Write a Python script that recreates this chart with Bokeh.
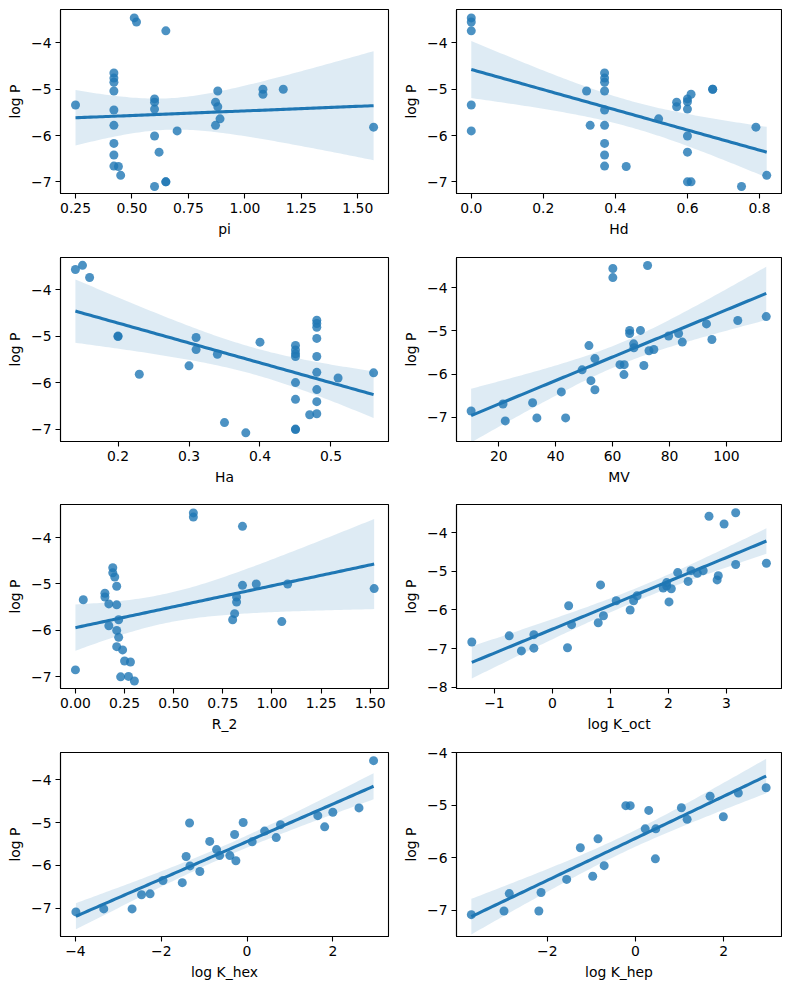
import numpy as np
from bokeh.plotting import figure
from bokeh.layouts import column, row
from bokeh.models import FixedTicker, Range1d
from bokeh.embed import file_html
from bokeh.resources import INLINE

# ---------------- data ----------------
pi_x = [0.25, 0.51, 0.52, 0.65, 0.42, 0.42, 0.42, 0.42, 0.42, 0.42, 0.42, 0.42, 0.42,
        0.44, 0.45, 0.60, 0.60, 0.60, 0.60, 0.62, 0.60, 0.65, 0.65, 0.70, 0.87, 0.88,
        0.88, 0.89, 0.87, 1.08, 1.08, 1.17, 1.57]
pi_y = [-5.34, -3.46, -3.55, -3.74, -4.65, -4.76, -4.85, -5.04, -5.45, -5.78, -6.17, -6.42, -6.66,
        -6.67, -6.86, -5.21, -5.28, -5.43, -6.01, -6.36, -7.10, -7.00, -7.00, -5.90, -5.28, -5.04,
        -5.38, -5.64, -5.78, -5.00, -5.11, -5.00, -5.82]

hd_x = [0.0, 0.0, 0.0, 0.0, 0.0, 0.32, 0.33, 0.37, 0.37, 0.37, 0.37, 0.37, 0.37, 0.37, 0.37, 0.37,
        0.43, 0.52, 0.57, 0.57, 0.60, 0.60, 0.60, 0.60, 0.60, 0.60, 0.61, 0.61, 0.67, 0.67,
        0.75, 0.79, 0.82]
hd_y = [-3.46, -3.55, -3.74, -5.34, -5.90, -5.04, -5.78, -4.65, -4.76, -4.85, -5.04, -5.45, -5.78,
        -6.17, -6.42, -6.66, -6.67, -5.64, -5.28, -5.38, -5.21, -5.27, -5.43, -6.01, -6.36, -7.00,
        -5.11, -7.00, -5.00, -5.00, -7.10, -5.82, -6.86]

ha_x = [0.14, 0.15, 0.16, 0.20, 0.20, 0.23, 0.30, 0.31, 0.31, 0.34, 0.35, 0.38, 0.40,
        0.45, 0.45, 0.45, 0.45, 0.45, 0.45, 0.45, 0.45, 0.47,
        0.48, 0.48, 0.48, 0.48, 0.48, 0.48, 0.48, 0.48, 0.48, 0.51, 0.56]
ha_y = [-3.57, -3.48, -3.74, -5.00, -5.01, -5.82, -5.64, -5.03, -5.29, -5.39, -6.86, -7.08, -5.13,
        -5.20, -5.30, -5.38, -5.44, -6.00, -6.36, -7.00, -7.01, -6.69,
        -4.66, -4.73, -4.81, -5.05, -5.44, -5.78, -6.15, -6.41, -6.67, -5.90, -5.79]

mv_x = [10.3, 21.5, 22.3, 31.9, 33.4, 42.0, 43.5, 49.3, 51.7, 52.4, 53.8, 53.8, 60.1, 60.1,
        62.6, 64.1, 64.0, 66.0, 66.0, 67.4, 67.5, 69.8, 71.0, 72.3, 72.8, 74.5, 79.7, 83.2,
        84.5, 93.0, 94.9, 104.0, 114.0]
mv_y = [-6.85, -6.69, -7.08, -6.66, -7.01, -6.41, -7.01, -5.90, -5.34, -6.15, -5.64, -6.36, -3.56, -3.77,
        -5.78, -5.78, -6.01, -4.99, -5.06, -5.30, -5.39, -4.99, -5.80, -3.49, -5.46, -5.43, -5.12, -5.06,
        -5.26, -4.84, -5.20, -4.76, -4.67]

r2_x = [0.00, 0.04, 0.15, 0.15, 0.17, 0.17, 0.19, 0.19, 0.20, 0.21, 0.21, 0.22, 0.21, 0.22, 0.21,
        0.24, 0.25, 0.28, 0.23, 0.27, 0.30, 0.60, 0.60, 0.85, 0.85, 0.92, 0.82, 0.82, 0.81, 0.80,
        1.05, 1.08, 1.52]
r2_y = [-6.85, -5.34, -5.20, -5.28, -5.43, -5.90, -4.65, -4.76, -4.85, -5.05, -5.45, -5.77, -6.00, -6.15, -6.35,
        -6.42, -6.66, -6.68, -7.00, -6.99, -7.09, -3.47, -3.56, -3.76, -5.03, -5.00, -5.28, -5.39, -5.64, -5.77,
        -5.81, -5.00, -5.10]

koct_x = [-1.39, -0.745, -0.535, -0.32, -0.32, 0.26, 0.28, 0.33, 0.79, 0.83, 0.88, 1.10, 1.34, 1.40,
          1.46, 1.91, 1.97, 1.97, 2.01, 2.05, 2.16, 2.34, 2.39, 2.50, 2.60, 2.70, 2.84, 2.86, 2.96,
          3.16, 3.16, 3.69]
koct_y = [-6.83, -6.67, -7.06, -6.64, -6.99, -6.98, -5.89, -6.38, -6.33, -5.35, -6.15, -5.76, -6.00, -5.76,
          -5.63, -5.43, -5.29, -5.38, -5.79, -5.45, -5.03, -5.26, -4.98, -5.05, -4.98, -3.57, -5.22, -5.11, -3.77,
          -3.48, -4.82, -4.79]

khex_x = [-3.99, -3.34, -2.68, -2.46, -2.26, -1.96, -1.51, -1.42, -1.34, -1.33, -1.10, -0.87, -0.71,
          -0.64, -0.40, -0.29, -0.26, -0.09, 0.12, 0.41, 0.68, 0.78, 1.65, 1.81, 2.00, 2.61, 2.95]
khex_y = [-7.08, -7.01, -7.01, -6.68, -6.66, -6.35, -6.40, -5.79, -5.01, -6.01, -6.14, -5.44, -5.63,
          -5.77, -5.77, -5.28, -5.89, -5.00, -5.45, -5.20, -5.35, -5.05, -4.84, -5.10, -4.76, -4.66, -3.56]

khep_x = [-3.72, -2.98, -2.86, -2.19, -2.14, -1.56, -1.25, -0.97, -0.85, -0.71, -0.22, -0.12, 0.22,
          0.30, 0.46, 0.45, 1.04, 1.17, 1.69, 1.99, 2.33, 2.96]
khep_y = [-7.08, -7.01, -6.68, -7.01, -6.66, -6.41, -5.81, -6.35, -5.64, -6.15, -5.01, -5.01, -5.45,
          -5.10, -5.45, -6.02, -5.05, -5.27, -4.83, -5.22, -4.77, -4.67]

# axis labels, ticks and tick labels
panels = [
    dict(x=pi_x, y=pi_y, xlabel="pi",
         xt=[0.25, 0.5, 0.75, 1.0, 1.25, 1.5], xl=["0.25", "0.50", "0.75", "1.00", "1.25", "1.50"],
         yt=[-7, -6, -5, -4], yl=["\u22127", "\u22126", "\u22125", "\u22124"],
         xr=(0.1835, 1.636), yr=(-7.252, -3.279)),
    dict(x=hd_x, y=hd_y, xlabel="Hd",
         xt=[0.0, 0.2, 0.4, 0.6, 0.8], xl=["0.0", "0.2", "0.4", "0.6", "0.8"],
         yt=[-7, -6, -5, -4], yl=["\u22127", "\u22126", "\u22125", "\u22124"],
         xr=(-0.041, 0.861), yr=(-7.252, -3.279)),
    dict(x=ha_x, y=ha_y, xlabel="Ha",
         xt=[0.2, 0.3, 0.4, 0.5], xl=["0.2", "0.3", "0.4", "0.5"],
         yt=[-7, -6, -5, -4], yl=["\u22127", "\u22126", "\u22125", "\u22124"],
         xr=(0.119, 0.581), yr=(-7.266, -3.311)),
    dict(x=mv_x, y=mv_y, xlabel="MV",
         xt=[20, 40, 60, 80, 100], xl=["20", "40", "60", "80", "100"],
         yt=[-7, -6, -5, -4], yl=["\u22127", "\u22126", "\u22125", "\u22124"],
         xr=(5.16, 119.36), yr=(-7.555, -3.306)),
    dict(x=r2_x, y=r2_y, xlabel="R_2",
         xt=[0.0, 0.25, 0.5, 0.75, 1.0, 1.25, 1.5], xl=["0.00", "0.25", "0.50", "0.75", "1.00", "1.25", "1.50"],
         yt=[-7, -6, -5, -4], yl=["\u22127", "\u22126", "\u22125", "\u22124"],
         xr=(-0.076, 1.593), yr=(-7.251, -3.289)),
    dict(x=koct_x, y=koct_y, xlabel="log K_oct",
         xt=[-1, 0, 1, 2, 3], xl=["\u22121", "0", "1", "2", "3"],
         yt=[-8, -7, -6, -5, -4], yl=["\u22128", "\u22127", "\u22126", "\u22125", "\u22124"],
         xr=(-1.654, 3.95), yr=(-8.035, -3.266)),
    dict(x=khex_x, y=khex_y, xlabel="log K_hex",
         xt=[-4, -2, 0, 2], xl=["\u22124", "\u22122", "0", "2"],
         yt=[-7, -6, -5, -4], yl=["\u22127", "\u22126", "\u22125", "\u22124"],
         xr=(-4.349, 3.298), yr=(-7.653, -3.37)),
    dict(x=khep_x, y=khep_y, xlabel="log K_hep",
         xt=[-2, 0, 2], xl=["\u22122", "0", "2"],
         yt=[-7, -6, -5, -4], yl=["\u22127", "\u22126", "\u22125", "\u22124"],
         xr=(-4.056, 3.308), yr=(-7.495, -4.0)),
]

BLUE = "#1f77b4"
FONT = "DejaVu Sans"
FS = "13.9px"


def fit(x, y):
    x = np.asarray(x, float)
    y = np.asarray(y, float)
    n = len(x)
    b, a = np.polyfit(x, y, 1)
    grid = np.linspace(x.min(), x.max(), 100)
    yhat = a + b * grid
    resid = y - (a + b * x)
    s = np.sqrt(resid @ resid / (n - 2))
    sxx = ((x - x.mean()) ** 2).sum()
    se = s * np.sqrt(1.0 / n + (grid - x.mean()) ** 2 / sxx)
    df = n - 2
    t = 1.96 + 2.4 / df + 2.9 / df ** 2
    return grid, yhat, yhat - t * se, yhat + t * se


col_w = [400, 382]
col_bl = [60, 52]
col_br = [12, 1]
row_h = [245, 245, 250, 249]
row_bt = [9, 12, 14, 12]
row_bb = [52, 49, 52, 53]

figs = []
for i, pnl in enumerate(panels):
    r, c = divmod(i, 2)
    p = figure(width=col_w[c], height=row_h[r], output_backend="svg", toolbar_location=None,
               x_range=Range1d(*pnl["xr"]), y_range=Range1d(*pnl["yr"]),
               min_border_left=col_bl[c], min_border_right=col_br[c],
               min_border_top=row_bt[r], min_border_bottom=row_bb[r])
    p.background_fill_color = "white"
    p.border_fill_color = "white"
    p.outline_line_color = "black"
    p.outline_line_width = 1.1
    p.xgrid.visible = False
    p.ygrid.visible = False

    p.scatter(pnl["x"], pnl["y"], size=9, fill_color=BLUE, fill_alpha=0.8, line_color=None)
    g, yh, lo, hi = fit(pnl["x"], pnl["y"])
    p.varea(x=g, y1=lo, y2=hi, fill_color=BLUE, fill_alpha=0.15)
    p.line(g, yh, line_color=BLUE, line_width=3.1)

    p.xaxis.ticker = FixedTicker(ticks=pnl["xt"])
    p.xaxis.major_label_overrides = dict(zip([float(v) for v in pnl["xt"]], pnl["xl"]))
    p.yaxis.ticker = FixedTicker(ticks=pnl["yt"])
    p.yaxis.major_label_overrides = dict(zip([float(v) for v in pnl["yt"]], pnl["yl"]))
    p.xaxis.axis_label = pnl["xlabel"]
    p.yaxis.axis_label = "log P"
    for ax in (p.xaxis[0], p.yaxis[0]):
        ax.axis_line_color = "black"
        ax.axis_line_width = 1.1
        ax.major_tick_line_color = "black"
        ax.major_tick_line_width = 1.1
        ax.major_tick_out = 5
        ax.major_tick_in = 0
        ax.minor_tick_line_color = None
        ax.major_label_text_font = FONT
        ax.major_label_text_font_size = FS
        ax.major_label_text_color = "black"
        ax.major_label_standoff = 4
        ax.axis_label_text_font = FONT
        ax.axis_label_text_font_size = FS
        ax.axis_label_text_font_style = "normal"
        ax.axis_label_text_color = "black"
        ax.axis_label_standoff = 5
    figs.append(p)

layout = column(row(figs[0], figs[1]), row(figs[2], figs[3]),
                row(figs[4], figs[5]), row(figs[6], figs[7]))

open("out.html", "w").write(file_html(layout, INLINE))
